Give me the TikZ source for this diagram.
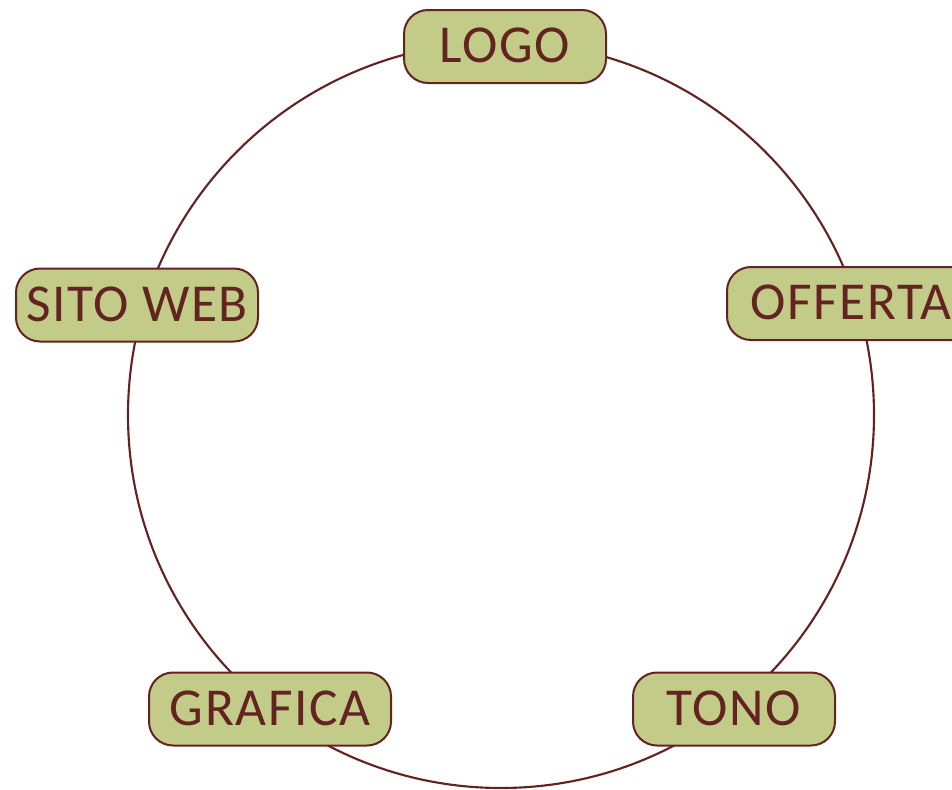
\documentclass[tikz,border=0pt]{standalone}
\usepackage{fontspec}
\setmainfont{Carlito}
\definecolor{edge}{RGB}{99,36,33}
\definecolor{pill}{RGB}{194,204,136}
\begin{document}
\begin{tikzpicture}[x=0.75pt,y=-0.75pt,
  pillbox/.style={draw=edge,fill=pill,line width=1.5pt,rounded corners=18pt,
    minimum height=73*0.75pt,inner sep=0pt,text=edge,
    font=\fontsize{40}{42}\selectfont\addfontfeatures{LetterSpace=3}},
  ring/.style={draw=edge,line width=1.6pt}]
\useasboundingbox (0,0) rectangle (952,789);
\clip (0,0) rectangle (952,789);
\coordinate (c) at (501,415);
\draw[ring] (c) circle[radius=373*0.75pt];
\node[pillbox,minimum width=202*0.75pt] (logo) at (505,46.5) {\raisebox{1.5pt}{LOGO}};
\node[pillbox,minimum width=242*0.75pt] (sito) at (137,305) {\raisebox{1.5pt}{SITO WEB}};
\node[pillbox,minimum width=248*0.75pt] (offerta) at (851,303.5) {\raisebox{1.5pt}{OFFERTA}};
\node[pillbox,minimum width=242*0.75pt] (grafica) at (270,709) {\raisebox{1.5pt}{GRAFICA}};
\node[pillbox,minimum width=202*0.75pt] (tono) at (734,709) {\raisebox{1.5pt}{TONO}};
\end{tikzpicture}
\end{document}
